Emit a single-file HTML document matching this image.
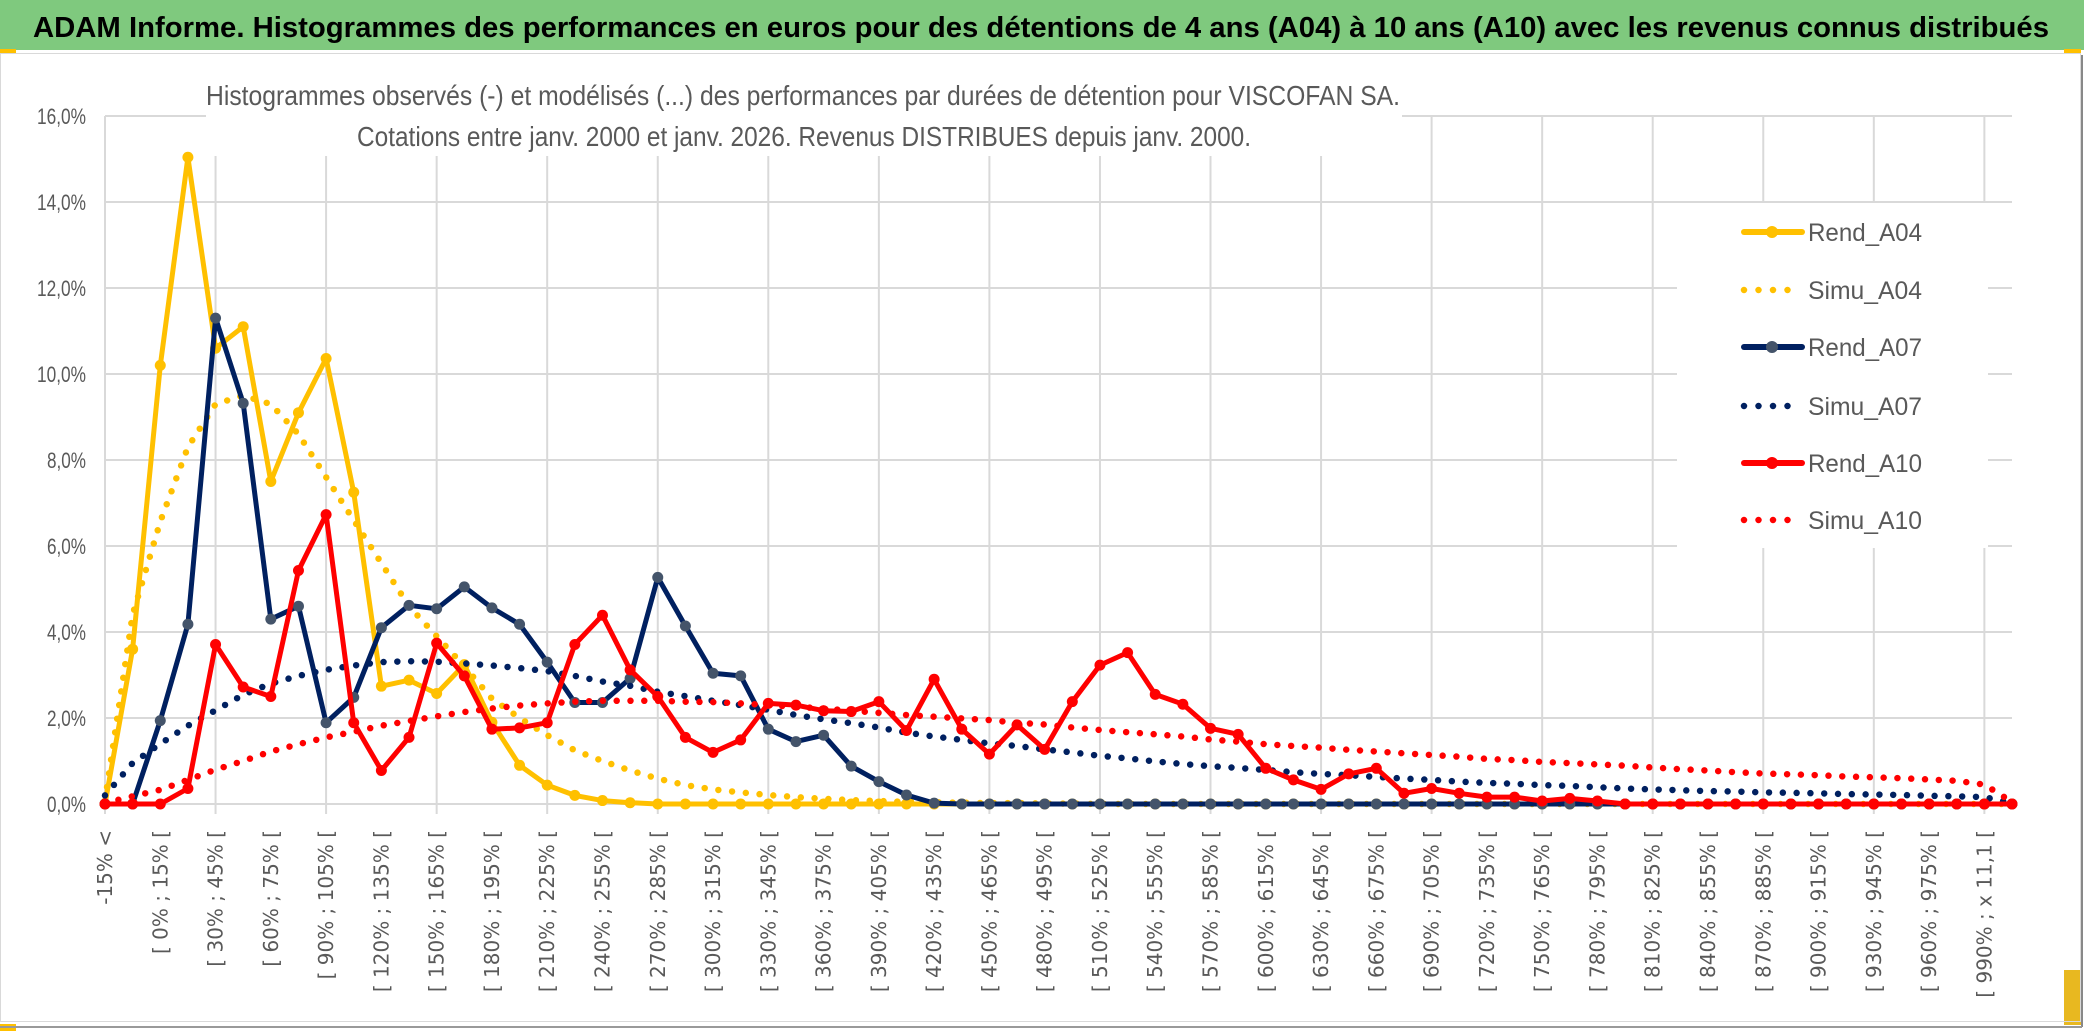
<!DOCTYPE html>
<html><head><meta charset="utf-8">
<style>
html,body{margin:0;padding:0;background:#fff;}
svg{display:block;}
text{font-family:"Liberation Sans",sans-serif;}
</style></head>
<body>
<svg id="chart" width="2086" height="1031" viewBox="0 0 2086 1031" xmlns="http://www.w3.org/2000/svg">
  <rect x="0" y="0" width="2086" height="1031" fill="#fff"/>
  <rect x="0" y="0" width="2084" height="50" fill="#7FC97E"/>
  <text x="33" y="37" font-size="29" font-weight="bold" fill="#000" textLength="2016" lengthAdjust="spacingAndGlyphs">ADAM Informe. Histogrammes des performances en euros pour des détentions de 4 ans (A04) à 10 ans (A10) avec les revenus connus distribués</text>
  <rect x="0" y="49" width="16" height="4" fill="#FFC000"/>
  <rect x="2064" y="49" width="17" height="4" fill="#FFC000"/>
  <rect x="0" y="1024" width="16" height="7" fill="#FFC000"/>
  <rect x="2064" y="970" width="17" height="55" fill="#E8B820"/>
  <rect x="0.5" y="53.5" width="2080" height="968" fill="none" stroke="#D9D9D9" stroke-width="1"/>
  <line x1="2082" y1="55" x2="2082" y2="1027" stroke="#888" stroke-width="2"/>
  <line x1="0" y1="1027" x2="2082" y2="1027" stroke="#999" stroke-width="2"/>
  <g id="grid"></g>
  <g id="yaxis"></g>
  <g id="xaxis"></g>
  <rect x="1677" y="203" width="311" height="345" fill="#fff"/>
  <g id="series"></g>
  <rect x="206" y="72" width="1196" height="84" fill="#fff"/>
  <text x="206" y="105" font-size="28" fill="#595959" textLength="1194" lengthAdjust="spacingAndGlyphs">Histogrammes observés (-) et modélisés (...) des performances par durées de détention pour VISCOFAN SA.</text>
  <text x="357" y="146" font-size="28" fill="#595959" textLength="894" lengthAdjust="spacingAndGlyphs">Cotations entre janv. 2000 et janv. 2026. Revenus DISTRIBUES depuis janv. 2000.</text>
  <g id="legend"></g>
</svg>
<script>
const rend04 = [0,3.6,10.2,15.04,10.6,11.1,7.5,9.1,10.36,7.25,2.74,2.88,2.57,3.24,1.9,0.9,0.44,0.2,0.08,0.03,0,0,0,0,0,0,0,0,0,0,0,0,0,0,0,0,0,0,0,0,0,0,0,0,0,0,0,0,0,0,0,0,0,0,0,0,0,0,0,0,0,0,0,0,0,0,0,0,0,0];
const simu04 = [0.08,4.4,6.57,8.3,9.3,9.5,9.3,8.6,7.6,6.6,5.6,4.6,3.9,3.2,2.45,2.0,1.6,1.25,1.0,0.78,0.59,0.44,0.34,0.27,0.21,0.16,0.12,0.09,0.07,0.05,0.04,0.03,0.02,0.02,0.01,0.01,0,0,0,0,0,0,0,0,0,0,0,0,0,0,0,0,0,0,0,0,0,0,0,0,0,0,0,0,0,0,0,0,0,0];
const rend07 = [0,0,1.94,4.18,11.3,9.32,4.3,4.6,1.89,2.48,4.1,4.62,4.54,5.05,4.56,4.18,3.3,2.36,2.36,2.92,5.27,4.14,3.04,2.98,1.74,1.45,1.6,0.88,0.52,0.21,0.02,0,0,0,0,0,0,0,0,0,0,0,0,0,0,0,0,0,0,0,0,0,0,0,0,0,0,0,0,0,0,0,0,0,0,0,0,0,0,0];
const simu07 = [0.2,0.95,1.4,1.82,2.18,2.54,2.8,2.98,3.12,3.22,3.3,3.32,3.31,3.27,3.22,3.16,3.09,2.98,2.85,2.75,2.61,2.51,2.4,2.3,2.19,2.07,1.97,1.88,1.78,1.66,1.57,1.49,1.41,1.35,1.27,1.2,1.12,1.06,0.99,0.93,0.88,0.84,0.79,0.74,0.7,0.67,0.63,0.59,0.56,0.52,0.49,0.47,0.44,0.42,0.39,0.36,0.34,0.32,0.3,0.29,0.27,0.26,0.25,0.23,0.22,0.21,0.19,0.18,0.16,0.02];
const rend10 = [0,0,0,0.36,3.71,2.72,2.5,5.43,6.73,1.89,0.78,1.55,3.74,2.98,1.74,1.77,1.89,3.71,4.39,3.12,2.5,1.55,1.2,1.49,2.34,2.3,2.17,2.15,2.38,1.71,2.9,1.74,1.16,1.84,1.27,2.38,3.23,3.52,2.55,2.32,1.76,1.62,0.83,0.56,0.34,0.7,0.83,0.25,0.36,0.25,0.16,0.16,0.07,0.13,0.07,0,0,0,0,0,0,0,0,0,0,0,0,0,0,0];
const simu10 = [0.02,0.18,0.33,0.56,0.8,1.0,1.22,1.39,1.55,1.68,1.82,1.93,2.04,2.14,2.22,2.29,2.34,2.38,2.4,2.4,2.4,2.38,2.37,2.34,2.3,2.26,2.22,2.17,2.12,2.07,2.03,1.99,1.95,1.89,1.85,1.78,1.72,1.67,1.62,1.57,1.5,1.45,1.39,1.35,1.31,1.26,1.22,1.18,1.14,1.1,1.05,1.02,0.98,0.95,0.92,0.89,0.85,0.81,0.78,0.74,0.71,0.69,0.67,0.64,0.62,0.6,0.57,0.54,0.45,0.05];
const yTicks = [0,2,4,6,8,10,12,14,16];
const yTickLabels = ["0,0%","2,0%","4,0%","6,0%","8,0%","10,0%","12,0%","14,0%","16,0%"];
const categories = [];
categories.push("-15% <");
categories.push("[ -15% ; 0% [");
for (let s = 0; s <= 975; s += 15) categories.push("[ " + s + "% ; " + (s + 15) + "% [");
categories[68] = "[ 990% ; x 11,1 [";
categories.push("x 11,1 <");

const NS = "http://www.w3.org/2000/svg";
const X0 = 105, X1 = 2012, Y0 = 804, YPER = 43;
const n = 70;
function xPos(i){ return X0 + (X1 - X0) * i / (n - 1); }
function yPos(v){ return Y0 - v * YPER; }
function mk(tag, attrs, parent){
  const e = document.createElementNS(NS, tag);
  for (const k in attrs) e.setAttribute(k, attrs[k]);
  parent.appendChild(e);
  return e;
}
const grid = document.getElementById('grid');
yTicks.forEach(function(t){
  const l = mk('line', {x1: X0, x2: X1, y1: yPos(t), y2: yPos(t), stroke: '#D9D9D9', 'stroke-width': 2}, grid);
  
  
});
for (let i = 0; i < n; i += 4) {
  const l = mk('line', {x1: xPos(i), x2: xPos(i), y1: yPos(16), y2: yPos(0) + 10, stroke: '#D9D9D9', 'stroke-width': 2}, grid);
  
  
}
const yaxis = document.getElementById('yaxis');
yTicks.forEach(function(t, k){
  const label = yTickLabels[k];
  const w = label.length === 5 ? 49 : 39;
  const tx = mk('text', {x: 86 - w, y: yPos(t) + 8, 'font-size': 22, fill: '#595959', textLength: w, lengthAdjust: 'spacingAndGlyphs'}, yaxis);
  tx.textContent = label;
  
  
});
const xaxis = document.getElementById('xaxis');
for (let i = 0; i < n; i += 2) {
  const x = xPos(i) + 7;
  const tx = mk('text', {x: x, y: 830, 'font-size': 20, fill: '#595959', 'text-anchor': 'end',
    transform: 'rotate(-90 ' + x + ' 830)', style: 'font-family:"DejaVu Sans",sans-serif'}, xaxis);
  tx.textContent = categories[i];
  
  
}
const seriesG = document.getElementById('series');
function pts(arr){ return arr.map(function(v, i){ return xPos(i).toFixed(1) + ',' + yPos(v).toFixed(1); }).join(' '); }
function solid(arr, color, mcolor, name){
  const g = mk('g', {}, seriesG);
  
  
  const p = mk('polyline', {points: pts(arr), fill: 'none', stroke: color, 'stroke-width': 5, 'stroke-linejoin': 'round'}, g);
  
  
  arr.forEach(function(v, i){
    const c = mk('circle', {cx: xPos(i), cy: yPos(v), r: 5.5, fill: mcolor}, g);
    
    
  });
}
function dotted(arr, color, name){
  const p = mk('polyline', {points: pts(arr), fill: 'none', stroke: color, 'stroke-width': 6.5, 'stroke-linecap': 'round', 'stroke-dasharray': '0 13.8'}, seriesG);
  
  
}
solid(rend04, '#FFC000', '#FFC000', 'rend-a04');
dotted(simu04, '#FFC000', 'simu-a04');
solid(rend07, '#002060', '#44546A', 'rend-a07');
dotted(simu07, '#002060', 'simu-a07');
solid(rend10, '#FF0000', '#FF0000', 'rend-a10');
dotted(simu10, '#FF0000', 'simu-a10');

const legend = document.getElementById('legend');
const legItems = [
  ['Rend_A04', '#FFC000', '#FFC000', false],
  ['Simu_A04', '#FFC000', null, true],
  ['Rend_A07', '#002060', '#44546A', false],
  ['Simu_A07', '#002060', null, true],
  ['Rend_A10', '#FF0000', '#FF0000', false],
  ['Simu_A10', '#FF0000', null, true]
];
const legY = [232, 290, 347, 406, 463, 520];
legItems.forEach(function(it, k){
  const y = legY[k];
  const g = mk('g', {}, legend);
  
  
  if (it[3]) {
    const last = it[0] === 'Simu_A10' ? 1801 : 1789;
    const l = mk('line', {x1: 1744, x2: last, y1: y, y2: y, stroke: it[1], 'stroke-width': 6.5, 'stroke-linecap': 'round', 'stroke-dasharray': '0 14.5'}, g);
    
    
  } else {
    const l = mk('line', {x1: 1744, x2: 1802, y1: y, y2: y, stroke: it[1], 'stroke-width': 6, 'stroke-linecap': 'round'}, g);
    
    
    const c = mk('circle', {cx: 1772, cy: y, r: 6, fill: it[2]}, g);
    
    
  }
  const t = mk('text', {x: 1808, y: y + 9, 'font-size': 25, fill: '#595959', textLength: 114, lengthAdjust: 'spacingAndGlyphs'}, g);
  t.textContent = it[0];
  
  
});
</script>
</body></html>
